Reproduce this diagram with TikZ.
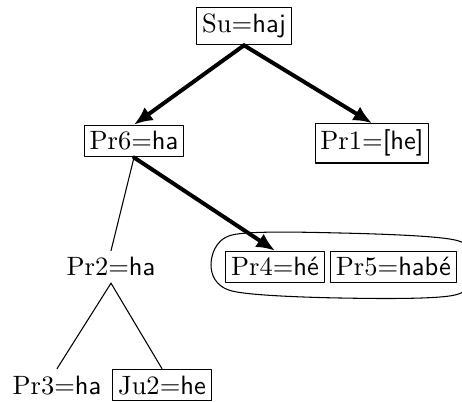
\documentclass[tikz,border=0pt]{standalone}
\usetikzlibrary{positioning,arrows.meta}
\tikzset{
  lbl/.style={inner xsep=2pt, inner ysep=2.4pt, anchor=base},
  boxed/.style={lbl, draw},
  heavy/.style={line width=1.5pt, -{Latex[length=7pt,width=6pt]}},
}
\newcommand{\pair}[2]{#1=\textsf{#2}}
\begin{document}
\begin{tikzpicture}[x=0.377pt, y=0.377pt, line cap=round, line join=round]
    \useasboundingbox (0,0) rectangle (462,401);
    \node[boxed] (su) at (244,368) {\pair{Su}{haj}};
    \node[boxed] (pr6) at (134,251) {\pair{Pr6}{ha}};
    \node[boxed] (pr1) at (372,251) {\pair{Pr1}{[he]}};
    \node[lbl] (pr2) at (111,125) {\pair{Pr2}{ha}};
    \node[boxed] (pr4) at (275,125) {\pair{Pr4}{hé}};
    \node[boxed, right=2pt of pr4] (pr5) {\pair{Pr5}{habé}};
    \node[lbl] (pr3) at (57,7) {\pair{Pr3}{ha}};
    \node[boxed] (ju2) at (162,7) {\pair{Ju2}{he}};
    \draw[heavy] (su.south) -- (pr6.north);
    \draw[heavy] (su.south) -- (pr1.north);
    \draw[heavy] (pr6.south) -- (pr4.north);
    \draw (pr6.south) -- (pr2.north);
    \draw (pr2.south) -- (pr3.north);
    \draw (pr2.south) -- (ju2.north);
    \draw plot[smooth cycle] coordinates {(211,136) (232,166) (340,168) (455,161) (480,136) (455,106) (340,103) (232,110)};
\end{tikzpicture}
\end{document}
